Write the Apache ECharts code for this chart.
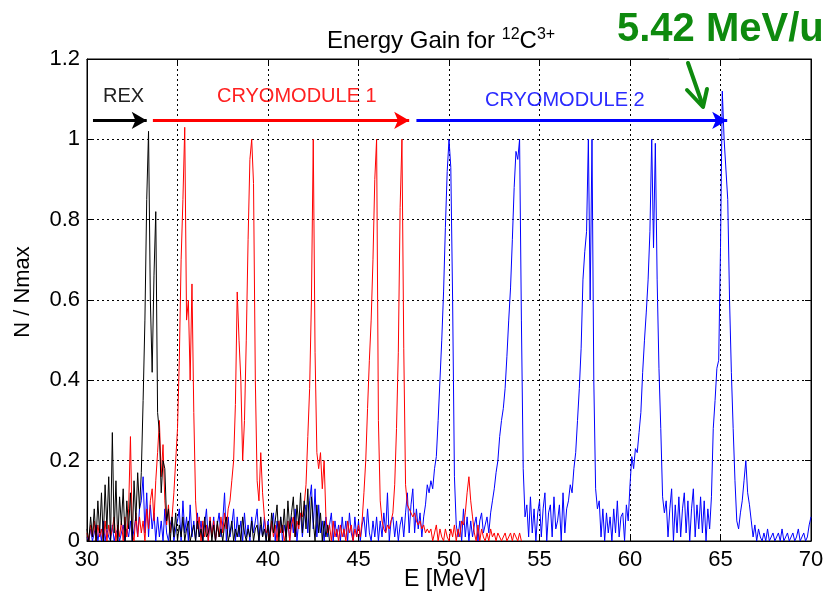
<!DOCTYPE html>
<html>
<head>
<meta charset="utf-8">
<script src="https://cdn.jsdelivr.net/npm/echarts@6/dist/echarts.min.js"></script>
<style>
  html, body { margin: 0; padding: 0; background: #fff; }
  #chart { width: 838px; height: 599px; }
</style>
</head>
<body>
<div id="chart"></div>
<script>
// spectra are binned at 0.1 MeV, each array starts at 30.0 MeV
const energyStep = 0.1
const spectrumStart = 30
const xTicks = [30, 35, 40, 45, 50, 55, 60, 65, 70]
const yTicks = [0, 0.2, 0.4, 0.6, 0.8, 1, 1.2]

// REX only (30.0 - 43.4)
const rexValues = [
  0.03, 0, 0.06, 0.01, 0.08, 0, 0.1, 0.02, 0.12, 0,
  0.14, 0.03, 0.16, 0, 0.27, 0.02, 0.15, 0, 0.11, 0.04,
  0.13, 0, 0.1, 0.03, 0.12, 0, 0.15, 0.05, 0.17, 0.08,
  0.17, 0.35, 0.55, 0.85, 1.02, 0.6, 0.42, 0.66, 0.82, 0.32,
  0.27, 0.12, 0.2, 0.18, 0.05, 0.08, 0, 0.06, 0.01, 0.07,
  0, 0.04, 0.01, 0.06, 0, 0.03, 0.05, 0, 0.02, 0.04,
  0, 0.05, 0.01, 0.03, 0, 0.06, 0.01, 0.02, 0.05, 0,
  0.04, 0, 0.05, 0.01, 0.03, 0, 0.04, 0.06, 0, 0.02,
  0.05, 0, 0.03, 0.01, 0.04, 0, 0.06, 0.02, 0, 0.03,
  0.01, 0.05, 0, 0.03, 0.04, 0, 0.06, 0.01, 0.03, 0,
  0.04, 0, 0.07, 0.02, 0.05, 0.09, 0, 0.06, 0.02, 0.08,
  0, 0.1, 0.03, 0.07, 0.11, 0.01, 0.09, 0.04, 0.12, 0.02,
  0.1, 0.03, 0.13, 0.01, 0.11, 0.05, 0, 0.09, 0.02, 0.07,
  0, 0.05, 0.01, 0.04, 0
]

// cryomodule 1 settings (30.0 - 54.0)
const cryo1Values = [
  0.02, 0, 0.04, 0.01, 0.05, 0, 0.04, 0.01, 0.03, 0,
  0.05, 0, 0.04, 0.01, 0.03, 0.06, 0, 0.04, 0.01, 0.05,
  0, 0.06, 0.01, 0.08, 0.26, 0.02, 0, 0.07, 0.01, 0.06,
  0.02, 0.05, 0, 0.08, 0.03, 0.1, 0.13, 0.05, 0.15, 0.22,
  0.3, 0.16, 0.24, 0.1, 0.04, 0.09, 0.02, 0.06, 0.12, 0.2,
  0.28, 0.45, 0.7, 0.85, 1.03, 0.55, 0.6, 0.4, 0.64, 0.32,
  0.1, 0.03, 0.06, 0, 0.05, 0.01, 0.04, 0, 0.06, 0.01,
  0.05, 0, 0.04, 0.01, 0.06, 0.02, 0.07, 0.03, 0.08, 0.1,
  0.15, 0.2, 0.34, 0.62, 0.5, 0.4, 0.2, 0.3, 0.5, 0.75,
  0.95, 1.0, 0.89, 0.4, 0.15, 0.1, 0.22, 0.12, 0.06, 0.02,
  0.03, 0, 0.05, 0.01, 0.04, 0, 0.05, 0.02, 0.04, 0,
  0.02, 0.05, 0, 0.04, 0.06, 0.01, 0.05, 0.03, 0.07, 0.06,
  0.09, 0.14, 0.26, 0.38, 0.6, 1.0, 0.47, 0.22, 0.18, 0.22,
  0.13, 0.2, 0.06, 0.02, 0.04, 0, 0.05, 0.01, 0.03, 0,
  0.04, 0.01, 0.03, 0, 0.05, 0.02, 0.04, 0, 0.03, 0.01,
  0.04, 0.01, 0.05, 0.12, 0.2, 0.33, 0.45, 0.55, 0.7, 0.9,
  1.0, 0.3, 0.1, 0.05, 0.03, 0.02, 0.04, 0.03, 0.05, 0.07,
  0.14, 0.28, 0.47, 0.83, 1.0, 0.48, 0.14, 0.09, 0.08, 0.07,
  0.06, 0.07, 0.05, 0.04, 0.05, 0.03, 0.04, 0.02, 0.03, 0.02,
  0.03, 0, 0.02, 0.04, 0, 0.03, 0.01, 0, 0.03, 0.01,
  0, 0.03, 0.01, 0.04, 0, 0.03, 0.01, 0.05, 0.04, 0.07,
  0.12, 0.16, 0.1, 0.06, 0.02, 0, 0.04, 0, 0.03, 0.01,
  0, 0.02, 0, 0.03, 0.01, 0.02, 0, 0.02, 0.01, 0,
  0.01, 0.02, 0, 0.01, 0.02, 0, 0.02, 0.01, 0, 0.02,
  0
]

// cryomodule 2 settings (30.0 - 70.0)
const cryo2Values = [
  0.01, 0, 0.03, 0, 0.02, 0.04, 0, 0.03, 0, 0.05,
  0, 0.03, 0.01, 0, 0.04, 0, 0.02, 0.03, 0, 0.02,
  0.04, 0, 0.03, 0.01, 0.05, 0, 0.03, 0.06, 0.01, 0.08,
  0.1, 0.16, 0.02, 0.12, 0.01, 0.09, 0.03, 0.07, 0, 0.06,
  0.01, 0.05, 0, 0.08, 0.02, 0, 0.04, 0.06, 0, 0.03,
  0.05, 0.08, 0, 0.1, 0.02, 0.06, 0, 0.09, 0.01, 0.05,
  0, 0.07, 0.01, 0.05, 0, 0.04, 0.08, 0, 0.05, 0.01,
  0.06, 0, 0.04, 0.07, 0.01, 0.05, 0.12, 0, 0.06, 0.01,
  0.04, 0.08, 0, 0.06, 0.01, 0.05, 0, 0.07, 0.01, 0.04,
  0, 0.06, 0.02, 0.05, 0.08, 0, 0.04, 0.01, 0.06, 0,
  0.05, 0.01, 0.04, 0.07, 0, 0.05, 0.01, 0.06, 0, 0.04,
  0.01, 0.05, 0, 0.06, 0.02, 0.08, 0, 0.05, 0.07, 0.01,
  0.06, 0.09, 0.02, 0.1, 0.14, 0.03, 0.13, 0.01, 0.09, 0.02,
  0.05, 0, 0.06, 0.01, 0.04, 0.07, 0, 0.05, 0.01, 0.04,
  0, 0.06, 0.01, 0.05, 0, 0.07, 0.02, 0, 0.06, 0.01,
  0.05, 0, 0.04, 0.06, 0.01, 0.08, 0.02, 0, 0.05, 0.01,
  0.06, 0, 0.05, 0.01, 0.07, 0.02, 0.12, 0, 0.05, 0.06,
  0.01, 0.05, 0, 0.04, 0.06, 0.01, 0.07, 0.12, 0.02, 0.09,
  0.13, 0.02, 0.08, 0.03, 0.07, 0.01, 0.06, 0.09, 0.14, 0.12,
  0.15, 0.13, 0.18, 0.21, 0.3, 0.4, 0.5, 0.62, 0.78, 0.92,
  1.0, 0.93, 0.6, 0.16, 0.04, 0.01, 0.05, 0, 0.08, 0.01,
  0.06, 0, 0.05, 0.01, 0.04, 0.06, 0, 0.05, 0.07, 0.02,
  0.04, 0.06, 0.02, 0.07, 0.1, 0.13, 0.17, 0.2, 0.26, 0.3,
  0.33, 0.38, 0.46, 0.55, 0.63, 0.75, 0.88, 0.97, 0.95, 1.0,
  0.55, 0.18, 0.06, 0.09, 0.01, 0.11, 0.02, 0.08, 0, 0.07,
  0.1, 0.01, 0.08, 0.12, 0, 0.07, 0.09, 0.01, 0.11, 0.03,
  0.05, 0.09, 0, 0.12, 0.02, 0.08, 0.1, 0.14, 0.12, 0.18,
  0.22, 0.3, 0.38, 0.48, 0.65, 0.72, 0.77, 1.0, 0.6, 1.0,
  0.4, 0.13, 0.08, 0.1, 0.01, 0.08, 0, 0.07, 0.02, 0.06,
  0, 0.08, 0.02, 0.1, 0.01, 0.06, 0.07, 0, 0.09, 0.05,
  0.14, 0.21, 0.18, 0.23, 0.22, 0.27, 0.32, 0.42, 0.5, 0.57,
  0.65, 0.77, 1.0, 0.73, 0.99, 0.65, 0.43, 0.28, 0.11, 0.07,
  0.1, 0.01, 0.08, 0.13, 0, 0.09, 0.02, 0.11, 0.01, 0.08,
  0.12, 0.02, 0.1, 0, 0.08, 0.13, 0.01, 0.09, 0.03, 0.11,
  0.02, 0.1, 0, 0.08, 0.03, 0.11, 0.28, 0.35, 0.43, 0.45,
  0.73, 1.12, 1.0, 1.0, 0.85, 0.6, 0.42, 0.28, 0.15, 0.05,
  0.03, 0.07, 0.1, 0.15, 0.2, 0.12, 0.09, 0.05, 0.01, 0.04,
  0, 0.03, 0.01, 0, 0.02, 0, 0.03, 0, 0.01, 0.02,
  0, 0.01, 0.02, 0, 0.03, 0, 0.01, 0.02, 0, 0.01,
  0.02, 0, 0.01, 0.03, 0, 0.01, 0.02, 0, 0.01, 0.04,
  0.06
]

// arrows above the peaks: [from E, to E] at N/Nmax = arrowLevel
const arrowLevel = 1.047
const rexArrow = [30.33, 33.3]
const cryo1Arrow = [33.64, 47.8]
const cryo2Arrow = [48.2, 65.37]

const font = 'Liberation Sans, Arial, sans-serif'
const narrowFont = 'Liberation Sans Narrow, Arial Narrow, Liberation Sans, sans-serif'

const toPoints = (values) =>
  values.map((v, i) => [Math.round((spectrumStart + i * energyStep) * 10) / 10, v])

const arrowLine = (range, color) => ({
  silent: true,
  symbol: ['none', 'arrow'],
  symbolSize: [13, 15],
  label: { show: false },
  lineStyle: { color, width: 3, type: 'solid' },
  data: [[{ coord: [range[0], arrowLevel] }, { coord: [range[1], arrowLevel] }]]
})

const chart = echarts.init(document.getElementById('chart'))

const spectrumSeries = (name, values, color, range) => ({
  name,
  type: 'line',
  data: toPoints(values),
  showSymbol: false,
  symbol: 'none',
  sampling: 'none',
  animation: false,
  lineStyle: { color, width: 1 },
  markLine: arrowLine(range, color)
})

const option = {
  animation: false,
  grid: {
    left: 87,
    right: 27,
    top: 59,
    bottom: 58,
    show: true,
    borderColor: '#000',
    borderWidth: 1
  },
  xAxis: [
    {
      type: 'value',
      min: xTicks[0],
      max: xTicks[xTicks.length - 1],
      interval: 5,
      axisLine: { show: true, onZero: false, lineStyle: { color: '#000' } },
      axisTick: { show: true, inside: true, length: 6, lineStyle: { color: '#000' } },
      axisLabel: { fontSize: 22, color: '#000', fontFamily: font, margin: 8 },
      splitLine: { show: true, lineStyle: { color: '#000', type: [2, 3], width: 1 } }
    },
    {
      type: 'value',
      position: 'top',
      min: xTicks[0],
      max: xTicks[xTicks.length - 1],
      interval: 5,
      axisLine: { show: true, onZero: false, lineStyle: { color: '#000' } },
      axisTick: { show: true, inside: true, length: 6, lineStyle: { color: '#000' } },
      axisLabel: { show: false },
      splitLine: { show: false }
    }
  ],
  yAxis: [
    {
      type: 'value',
      min: yTicks[0],
      max: yTicks[yTicks.length - 1],
      interval: 0.2,
      axisLine: { show: true, onZero: false, lineStyle: { color: '#000' } },
      axisTick: { show: true, inside: true, length: 6, lineStyle: { color: '#000' } },
      axisLabel: { fontSize: 22, color: '#000', fontFamily: font, margin: 7 },
      splitLine: { show: true, lineStyle: { color: '#000', type: [2, 3], width: 1 } }
    },
    {
      type: 'value',
      position: 'right',
      min: yTicks[0],
      max: yTicks[yTicks.length - 1],
      interval: 0.2,
      axisLine: { show: true, onZero: false, lineStyle: { color: '#000' } },
      axisTick: { show: true, inside: true, length: 6, lineStyle: { color: '#000' } },
      axisLabel: { show: false },
      splitLine: { show: false }
    }
  ],
  series: [
    spectrumSeries('CRYOMODULE 2', cryo2Values, '#0000ff', cryo2Arrow),
    spectrumSeries('CRYOMODULE 1', cryo1Values, '#ff0000', cryo1Arrow),
    spectrumSeries('REX', rexValues, '#000000', rexArrow)
  ],
  graphic: [
    {
      type: 'text',
      x: 327,
      y: 41,
      style: {
        text: 'Energy Gain for {s|12}C{s|3+}',
        fontSize: 24,
        fontFamily: font,
        fill: '#000',
        verticalAlign: 'middle',
        rich: {
          s: { fontSize: 16, fontFamily: font, fill: '#000', padding: [0, 0, 12, 0] }
        }
      }
    },
    {
      type: 'text',
      x: 617,
      y: 30,
      style: {
        text: '5.42 MeV/u',
        fontSize: 40,
        fontWeight: 'bold',
        fontFamily: font,
        fill: '#0e8a0e',
        verticalAlign: 'middle'
      }
    },
    {
      type: 'line',
      shape: { x1: 688, y1: 63, x2: 703, y2: 106 },
      style: { stroke: '#0e8a0e', lineWidth: 4, lineCap: 'round' }
    },
    {
      type: 'polyline',
      shape: { points: [[687, 90], [703, 107], [707, 89]] },
      style: { stroke: '#0e8a0e', lineWidth: 4, lineCap: 'round', lineJoin: 'round', fill: null }
    },
    {
      type: 'line',
      shape: { x1: 669, y1: 59, x2: 739, y2: 59 },
      style: { stroke: '#aaa', lineWidth: 2 }
    },
    {
      type: 'text',
      x: 103,
      y: 96,
      style: { text: 'REX', fontSize: 20, fontFamily: narrowFont, fill: '#222', verticalAlign: 'middle' }
    },
    {
      type: 'text',
      x: 217,
      y: 96,
      style: { text: 'CRYOMODULE 1', fontSize: 20, fontFamily: narrowFont, fill: '#ff2020', verticalAlign: 'middle' }
    },
    {
      type: 'text',
      x: 485,
      y: 100,
      style: { text: 'CRYOMODULE 2', fontSize: 20, fontFamily: narrowFont, fill: '#2a2aff', verticalAlign: 'middle' }
    },
    {
      type: 'text',
      x: 445,
      y: 580,
      style: { text: 'E [MeV]', fontSize: 23, fontFamily: font, fill: '#000', align: 'center', verticalAlign: 'middle' }
    },
    {
      type: 'text',
      x: 23,
      y: 292,
      rotation: Math.PI / 2,
      style: { text: 'N / Nmax', fontSize: 22, fontFamily: font, fill: '#000', align: 'center', verticalAlign: 'middle' }
    }
  ]
}

chart.setOption(option)
</script>
</body>
</html>
